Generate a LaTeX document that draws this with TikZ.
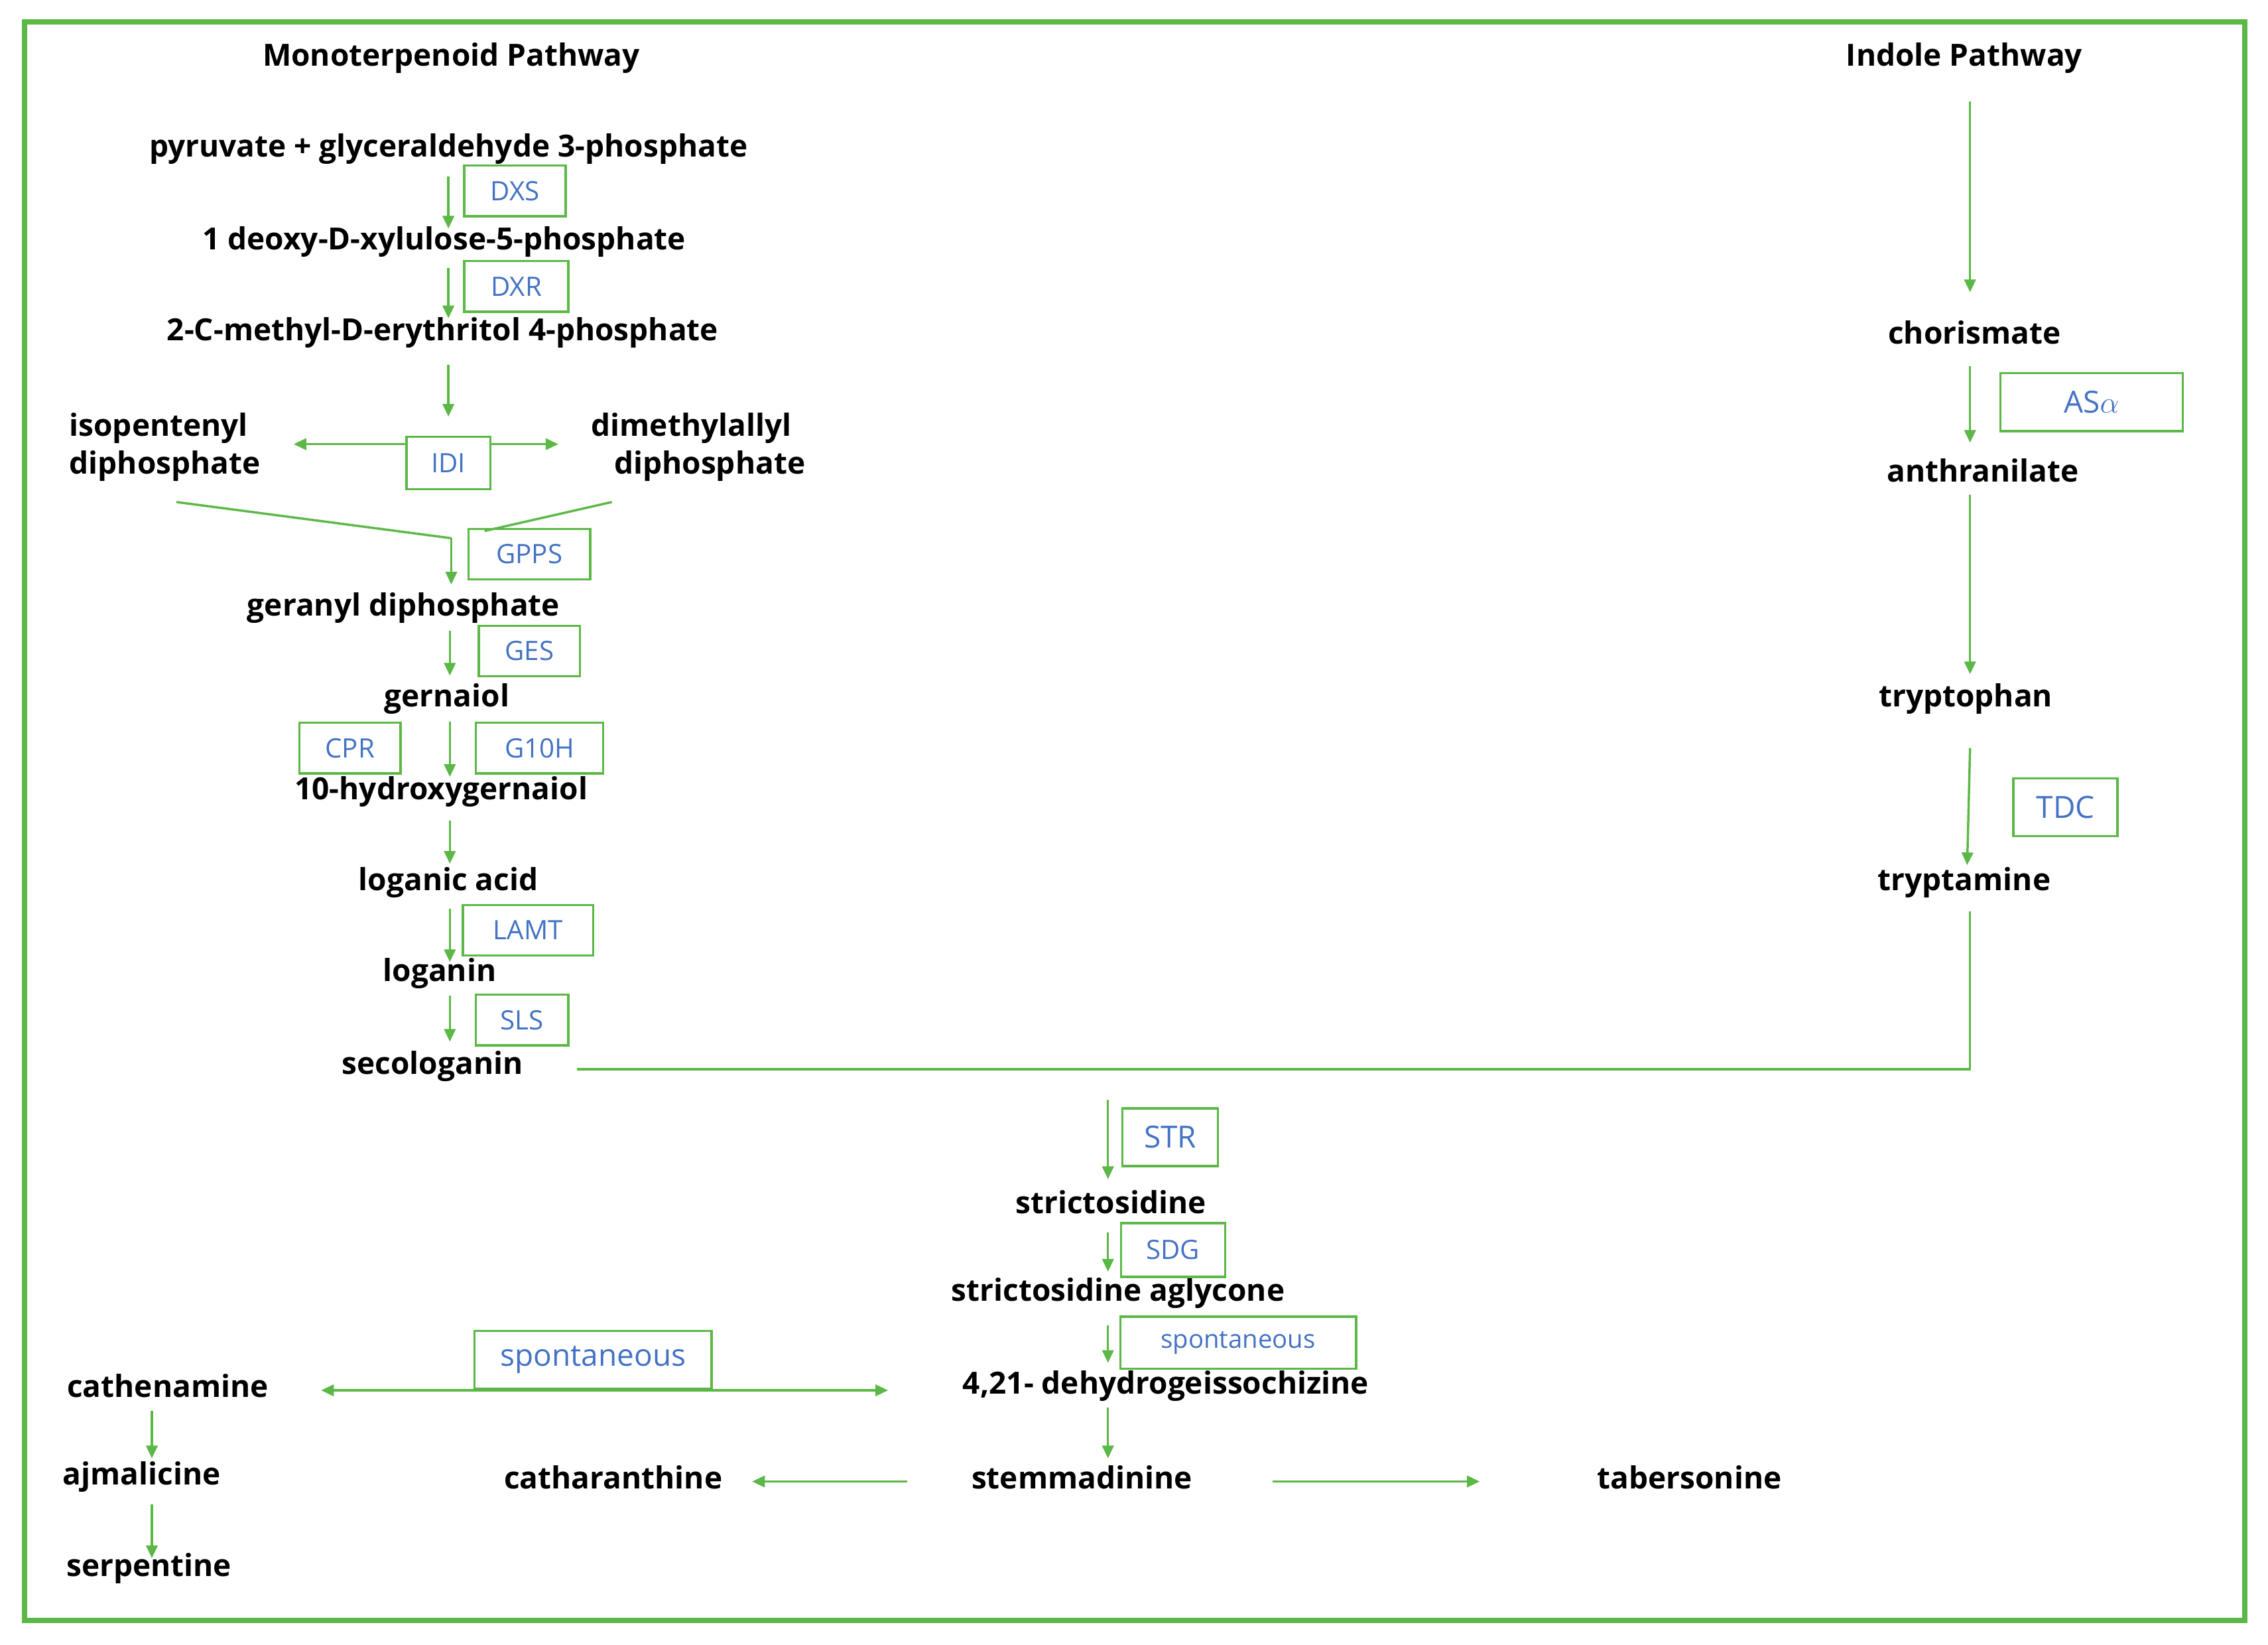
\documentclass[tikz,border=0pt]{standalone}
\usepackage{fontspec}
\setmainfont{Open Sans}
\usetikzlibrary{arrows.meta}
\definecolor{gr}{RGB}{92,184,70}
\definecolor{bl}{RGB}{68,114,196}
\begin{document}
\begin{tikzpicture}[x=0.02cm,y=-0.02cm,
  t/.style={font=\fontsize{12}{15}\selectfont\bfseries,inner sep=0pt,align=center},
  tl/.style={t,align=left},
  enz/.style={draw=gr,line width=0.9pt,font=\fontsize{10.5}{12}\selectfont,text=bl,inner sep=0pt},
  ar/.style={gr,line width=0.9pt,-{Triangle[length=5pt,width=4.5pt]}},
  ln/.style={gr,line width=0.9pt}]
\useasboundingbox (0,0) rectangle (1568,1137);
\draw[gr,line width=2.2pt] (17,15) rectangle (1552,1120);
% texts
\node[t] (mp) at (312,40) {Monoterpenoid Pathway};
\node[t] (ip) at (1358,40) {Indole Pathway};
\node[t] (pyr) at (310,103) {pyruvate + glyceraldehyde 3-phosphate};
\node[t] (dxp) at (307,167) {1 deoxy-D-xylulose-5-phosphate};
\node[t] (mep) at (306,230) {2-C-methyl-D-erythritol 4-phosphate};
\node[tl] (ipp) at (114,309) {isopentenyl\\diphosphate};
\node[t] (dma) at (478,309) {dimethylallyl\\\hspace{1.2em}diphosphate};
\node[t] (gpp) at (279,420) {geranyl diphosphate};
\node[t] (ger) at (309,483) {gernaiol};
\node[t] (hg) at (305,547) {10-hydroxygernaiol};
\node[t] (la) at (310,610) {loganic acid};
\node[t] (lo) at (304,673) {loganin};
\node[t] (se) at (299,737) {secologanin};
\node[t] (ch) at (1365,230) {chorismate};
\node[t] (an) at (1371,325) {anthranilate};
\node[t] (tp) at (1359,483) {tryptophan};
\node[t] (ta) at (1358,610) {tryptamine};
\node[t] (st) at (768,831) {strictosidine};
\node[t] (sa) at (773,894) {strictosidine aglycone};
\node[t] (dg) at (806,958) {4,21- dehydrogeissochizine};
\node[t] (ca) at (116,958) {cathenamine};
\node[t] (aj) at (98,1021) {ajmalicine};
\node[t] (sp) at (103,1084) {serpentine};
\node[t] (cat) at (424,1021) {catharanthine};
\node[t] (sm) at (748,1021) {stemmadinine};
\node[t] (tb) at (1168,1021) {tabersonine};
% enzymes
\node[enz,minimum width=1.4cm,minimum height=0.7cm] (dxs) at (356,132) {DXS};
\node[enz,minimum width=1.44cm,minimum height=0.7cm] (dxr) at (357,198) {DXR};
\node[enz,minimum width=1.16cm,minimum height=0.72cm] (idi) at (310,320) {IDI};
\node[enz,minimum width=1.68cm,minimum height=0.7cm] (gpps) at (366,383) {GPPS};
\node[enz,minimum width=1.4cm,minimum height=0.7cm] (ges) at (366,450) {GES};
\node[enz,minimum width=1.4cm,minimum height=0.7cm] (cpr) at (242,517) {CPR};
\node[enz,minimum width=1.76cm,minimum height=0.7cm] (g10) at (373,517) {G10H};
\node[enz,minimum width=1.8cm,minimum height=0.7cm] (lamt) at (365,643) {LAMT};
\node[enz,minimum width=1.28cm,minimum height=0.7cm] (sls) at (361,705) {SLS};
\node[enz,minimum width=2.52cm,minimum height=0.8cm,font=\fontsize{12}{14}\selectfont] (asa) at (1446,278) {AS$\alpha$};
\node[enz,minimum width=1.44cm,minimum height=0.8cm,font=\fontsize{12}{14}\selectfont] (tdc) at (1428,558) {TDC};
\node[enz,minimum width=1.32cm,minimum height=0.8cm,font=\fontsize{12}{14}\selectfont] (str) at (809,786) {STR};
\node[enz,minimum width=1.44cm,minimum height=0.74cm] (sdg) at (811,864) {SDG};
\node[enz,minimum width=3.26cm,minimum height=0.72cm,font=\fontsize{10}{12}\selectfont] (sp1) at (856,928) {spontaneous};
\node[enz,minimum width=3.28cm,minimum height=0.8cm,font=\fontsize{12}{14}\selectfont] (sp2) at (410,940) {spontaneous};
% connectors
\coordinate (j) at (312,372);
\coordinate (sec) at (399,739);
\draw[ar] (310,122) -- (310,158);
\draw[ar] (310,185) -- (310,220);
\draw[ar] (310,252) -- (310,288);
\draw[ar] (idi.west|-0,307) -- (203,307);
\draw[ar] (idi.east|-0,307) -- (386,307);
\draw[ln] (122,347) -- (j) (423,347) -- (335,367);
\draw[ar] (j) -- (312,404);
\draw[ar] (311,436) -- (311,467);
\draw[ar] (311,499) -- (311,537);
\draw[ar] (311,567) -- (311,597);
\draw[ar] (311,628) -- (311,665);
\draw[ar] (311,688) -- (311,720);
\draw[ar] (1362,70) -- (1362,202);
\draw[ar] (1362,253) -- (1362,306);
\draw[ar] (1362,342) -- (1362,466);
\draw[ar] (1362,517) -- (1360,598);
\draw[ln] (1362,630) -- (1362,739) -- (sec);
\draw[ar] (766,760) -- (766,815);
\draw[ar] (766,852) -- (766,879);
\draw[ar] (766,916) -- (766,942);
\draw[gr,line width=0.9pt,{Triangle[length=5pt,width=4.5pt]}-{Triangle[length=5pt,width=4.5pt]}] (222,961) -- (614,961);
\draw[ar] (766,973) -- (766,1008);
\draw[ar] (105,975) -- (105,1008);
\draw[ar] (105,1040) -- (105,1077);
\draw[ar] (627,1024) -- (520,1024);
\draw[ar] (880,1024) -- (1023,1024);
\end{tikzpicture}
\end{document}
